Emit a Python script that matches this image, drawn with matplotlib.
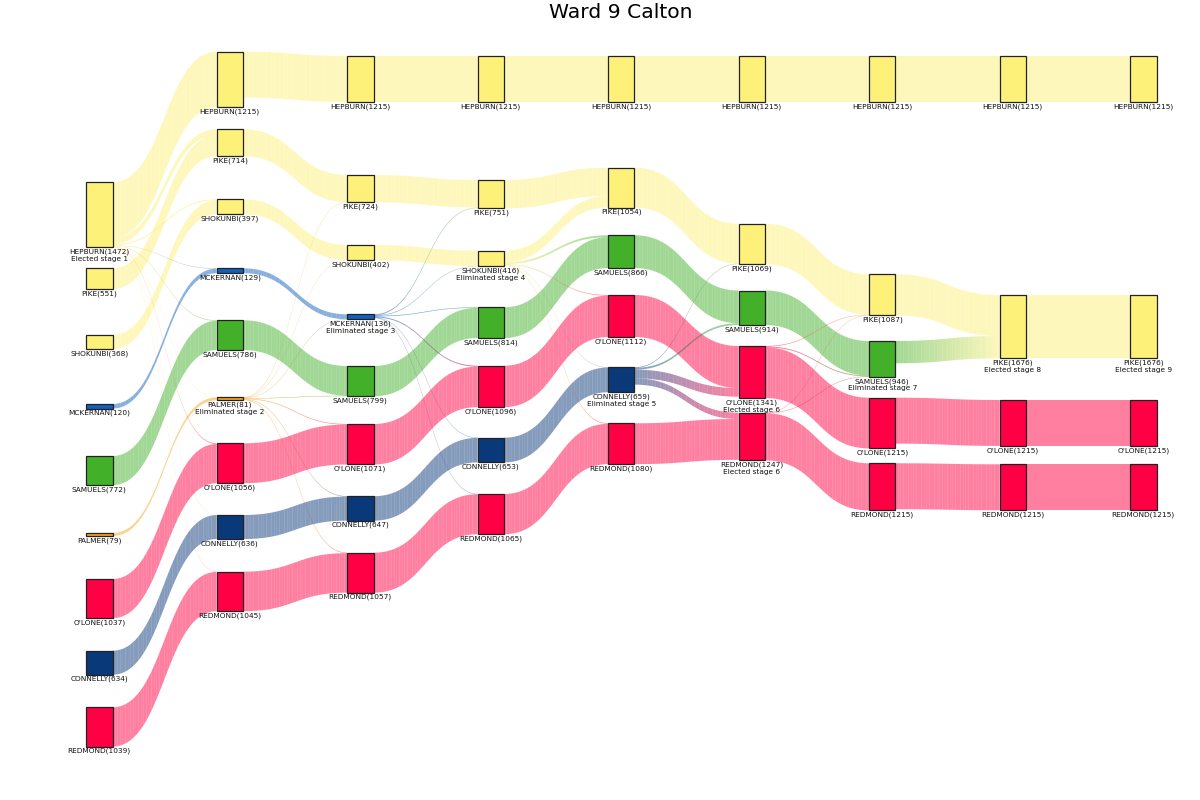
#! /usr/bin/python3

import numpy as np
import matplotlib.pyplot as plt
from matplotlib.collections import PolyCollection
from matplotlib.colors import to_rgb
from matplotlib.patches import Rectangle

# votes held at each of the 9 stages (None = out of the count)
candidates = ['HEPBURN', 'PIKE', 'SHOKUNBI', 'MCKERNAN', 'SAMUELS', 'PALMER', "O'LONE", 'CONNELLY', 'REDMOND']
hepburn  = [1472, 1215, 1215, 1215, 1215, 1215, 1215, 1215, 1215]
pike     = [551, 714, 724, 751, 1054, 1069, 1087, 1676, 1676]
shokunbi = [368, 397, 402, 416, None, None, None, None, None]
mckernan = [120, 129, 136, None, None, None, None, None, None]
samuels  = [772, 786, 799, 814, 866, 914, 946, None, None]
palmer   = [79, 81, None, None, None, None, None, None, None]
olone    = [1037, 1056, 1071, 1096, 1112, 1341, 1215, 1215, 1215]
connelly = [634, 636, 647, 653, 659, None, None, None, None]
redmond  = [1039, 1045, 1057, 1065, 1080, 1247, 1215, 1215, 1215]

# transferred votes: (from stage, source, target, votes)
transfers = [
    (1, 'HEPBURN', 'PIKE', 163), (1, 'HEPBURN', 'SHOKUNBI', 29), (1, 'HEPBURN', 'MCKERNAN', 9),
    (1, 'HEPBURN', 'SAMUELS', 14), (1, 'HEPBURN', 'PALMER', 2), (1, 'HEPBURN', "O'LONE", 19),
    (1, 'HEPBURN', 'CONNELLY', 2), (1, 'HEPBURN', 'REDMOND', 6),
    (2, 'PALMER', 'PIKE', 10), (2, 'PALMER', 'SHOKUNBI', 5), (2, 'PALMER', 'MCKERNAN', 7),
    (2, 'PALMER', 'SAMUELS', 13), (2, 'PALMER', "O'LONE", 15), (2, 'PALMER', 'CONNELLY', 11),
    (2, 'PALMER', 'REDMOND', 12),
    (3, 'MCKERNAN', 'PIKE', 27), (3, 'MCKERNAN', 'SHOKUNBI', 14), (3, 'MCKERNAN', 'SAMUELS', 15),
    (3, 'MCKERNAN', "O'LONE", 25), (3, 'MCKERNAN', 'CONNELLY', 6), (3, 'MCKERNAN', 'REDMOND', 8),
    (4, 'SHOKUNBI', 'PIKE', 303), (4, 'SHOKUNBI', 'SAMUELS', 52), (4, 'SHOKUNBI', "O'LONE", 16),
    (4, 'SHOKUNBI', 'CONNELLY', 6), (4, 'SHOKUNBI', 'REDMOND', 15),
    (5, 'CONNELLY', 'PIKE', 15), (5, 'CONNELLY', 'SAMUELS', 48), (5, 'CONNELLY', "O'LONE", 229),
    (5, 'CONNELLY', 'REDMOND', 167),
    (6, "O'LONE", 'PIKE', 13), (6, "O'LONE", 'SAMUELS', 23),
    (6, 'REDMOND', 'PIKE', 5), (6, 'REDMOND', 'SAMUELS', 9),
    (7, 'SAMUELS', 'PIKE', 589),
]

notes = {('HEPBURN', 1): 'Elected stage 1', ('PALMER', 2): 'Eliminated stage 2',
         ('MCKERNAN', 3): 'Eliminated stage 3', ('SHOKUNBI', 4): 'Eliminated stage 4',
         ('CONNELLY', 5): 'Eliminated stage 5', ("O'LONE", 6): 'Elected stage 6',
         ('REDMOND', 6): 'Elected stage 6', ('SAMUELS', 7): 'Eliminated stage 7',
         ('PIKE', 8): 'Elected stage 8', ('PIKE', 9): 'Elected stage 9'}

colours = {'HEPBURN': '#fef17a', 'PIKE': '#fef17a', 'SHOKUNBI': '#fef17a', 'MCKERNAN': '#1060be',
           'SAMUELS': '#43b02a', 'PALMER': '#f7a51e', "O'LONE": '#ff0044', 'CONNELLY': '#0a397a',
           'REDMOND': '#ff0044'}

# layout: top of each node box per stage (pixel rows of the 1200x800 canvas)
tops = {
    'HEPBURN':  [182.3, 51.7, 56, 56, 56, 56, 56, 56, 56],
    'PIKE':     [268.3, 129.3, 175, 180, 167.7, 223.7, 274.3, 295, 295],
    'SHOKUNBI': [335, 199.3, 245, 250.7, None, None, None, None, None],
    'MCKERNAN': [404, 268.3, 314.3, None, None, None, None, None, None],
    'SAMUELS':  [456, 320.3, 366, 307.3, 235.3, 290.5, 341, None, None],
    'PALMER':   [533, 397.3, None, None, None, None, None, None, None],
    "O'LONE":   [579, 443.3, 424, 365.7, 295, 346, 397.7, 400, 400],
    'CONNELLY': [650.7, 515, 496.2, 437.7, 367.3, None, None, None, None],
    'REDMOND':  [707.3, 571.7, 552.7, 494, 423.3, 412.7, 463.3, 464.3, 464.3],
}
X0, DX, HW = 99.3, 130.5, 13.2
PX = 0.0378      # pixels per vote
NSLICE = 40

votes = dict(zip(candidates, [hepburn, pike, shokunbi, mckernan, samuels, palmer, olone, connelly, redmond]))


def cx(s):
    return X0 + DX * (s - 1)


def top(c, s):
    return tops[c][s - 1]


# every candidate still standing carries its own votes forward
edges = []
for s in range(1, 9):
    for c in candidates:
        if votes[c][s - 1] is not None and votes[c][s] is not None:
            edges.append((s, c, c, votes[c][s - 1]))
edges += transfers

inflow, outflow = {}, {}
for s, a, b, v in edges:
    outflow[(a, s)] = outflow.get((a, s), 0) + v
    inflow[(b, s + 1)] = inflow.get((b, s + 1), 0) + v

out_pos, in_pos, off = {}, {}, {}
for e in sorted(edges, key=lambda e: (e[0], top(e[1], e[0]), top(e[2], e[0] + 1))):
    k = ('out', e[1], e[0])
    y = off.get(k, top(e[1], e[0]))
    out_pos[e] = y
    off[k] = y + e[3] * PX
for e in sorted(edges, key=lambda e: (e[0], top(e[2], e[0] + 1), top(e[1], e[0]))):
    k = ('in', e[2], e[0] + 1)
    y = off.get(k, top(e[2], e[0] + 1))
    in_pos[e] = y
    off[k] = y + e[3] * PX

fig = plt.figure(figsize=(12, 8), dpi=100)
ax = fig.add_axes([0, 0, 1, 1])
ax.set_xlim(0, 1200)
ax.set_ylim(800, 0)
ax.axis('off')

u = np.linspace(0, 1, 400)
bx = 1.5 * u - 1.5 * u**2 + u**3
by = 3 * u**2 - 2 * u**3

polys, cols = [], []
for e in edges:
    s, a, b, v = e
    x0, x1 = cx(s) + HW, cx(s + 1) - HW
    y0, y1 = out_pos[e], in_pos[e]
    w = v * PX
    xs = np.linspace(x0, x1, NSLICE + 1)
    yt = y0 + (y1 - y0) * np.interp((xs - x0) / (x1 - x0), bx, by)
    ca, cb = np.array(to_rgb(colours[a])), np.array(to_rgb(colours[b]))
    for i in range(NSLICE):
        polys.append([(xs[i], yt[i]), (xs[i + 1], yt[i + 1]), (xs[i + 1], yt[i + 1] + w), (xs[i], yt[i] + w)])
        t = (i + 0.5) / NSLICE
        cols.append((*(ca * (1 - t) + cb * t), 0.5))
    if w < 1.2:
        ax.plot(xs, yt + w / 2, color=colours[a], lw=0.3, alpha=0.25, zorder=1)
ax.add_collection(PolyCollection(polys, facecolors=cols, edgecolors='none', zorder=1))

for c in candidates:
    for s in range(1, 10):
        v = votes[c][s - 1]
        if v is None:
            continue
        h = max(inflow.get((c, s), 0), outflow.get((c, s), 0)) * PX
        y = top(c, s)
        ax.add_patch(Rectangle((cx(s) - HW, y), 2 * HW, h, facecolor=colours[c],
                               edgecolor='#222222', lw=0.9, zorder=3))
        label = "{}({})".format(c, v)
        if (c, s) in notes:
            label += "\n" + notes[(c, s)]
        ax.text(cx(s), y + h + 1.3, label, ha='center', va='top', fontsize=5.3,
                linespacing=1.17, color='#111111', zorder=2)

fig.text(621 / 1200, 1 - 18.3 / 800, 'Ward 9 Calton', ha='center', va='baseline', fontsize=14.6)

fig.savefig('out.png', dpi=100)
